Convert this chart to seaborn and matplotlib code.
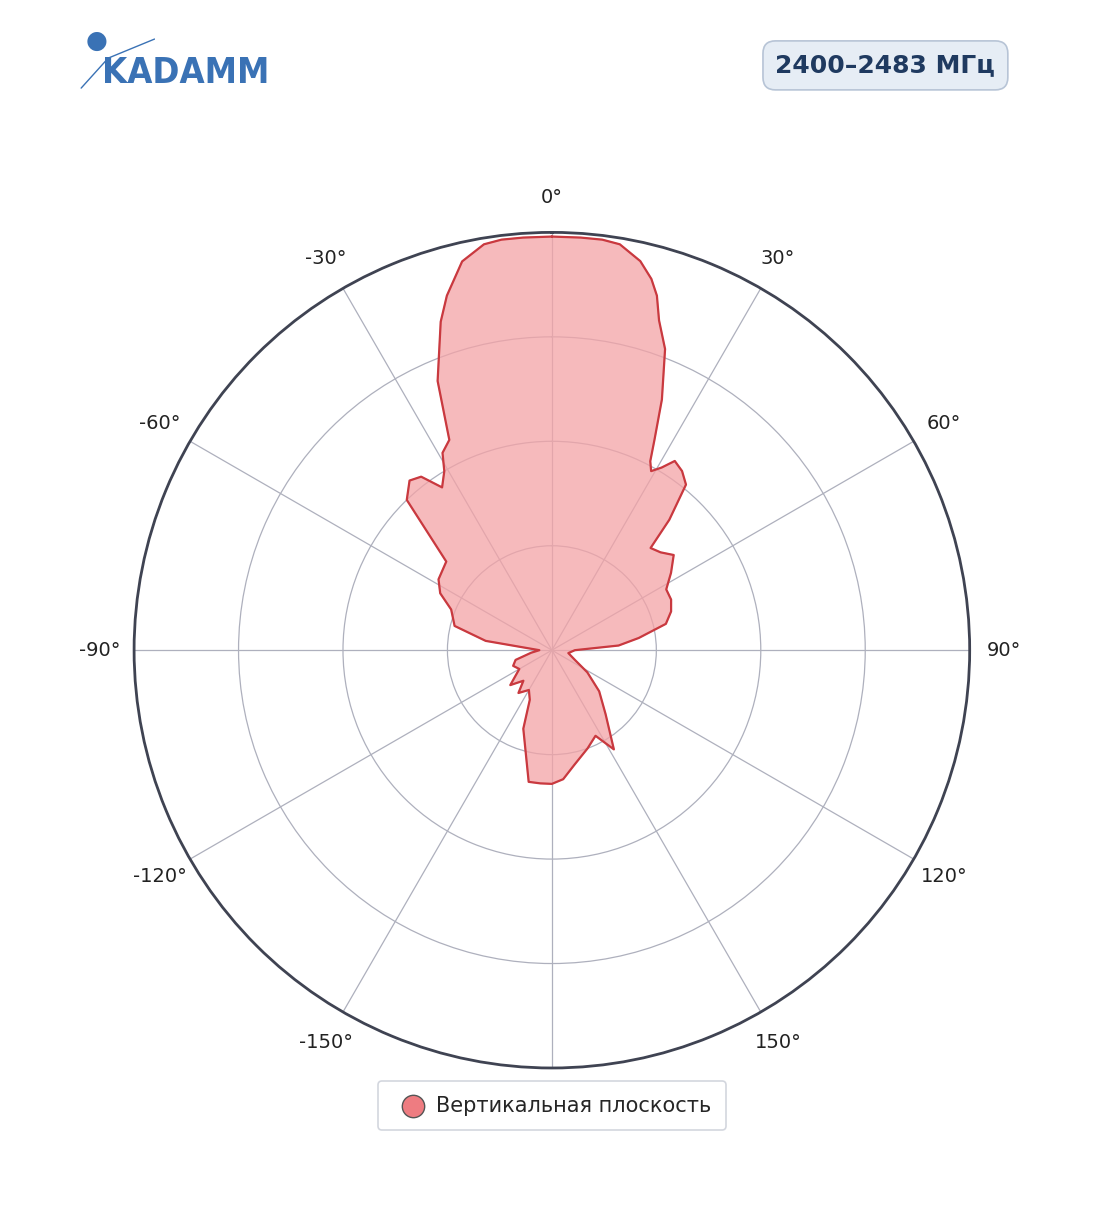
import numpy as np
import pandas as pd
import matplotlib
matplotlib.use('Agg')
import matplotlib.pyplot as plt
import seaborn as sns

sns.set_theme(style="white")
plt.rcParams['font.family'] = ['DejaVu Sans']

# pattern: angle (deg), relative radius (0..1)
angles = [0, 4, 7, 9.5, 12.8, 15, 16.5, 18, 20.6, 23.7, 26, 27.5, 29, 31, 33, 36, 39, 42, 44, 48, 52, 57, 62, 67, 72, 77, 82, 86, 90,
          100, 113, 122, 131, 140, 148, 153, 160, 169, 175, 180,
          185, 190, 200, 204, 210, 218, 223, 230, 240, 248, 255, 263, 270,
          278, 284, 292, 297, 302, 310, 316, 320, 323, 326, 329, 331, 334, 337, 341.3, 343.5, 347, 350.5, 353, 356, 360]
radius = [0.99, 0.99, 0.99, 0.985, 0.955, 0.92, 0.885, 0.83, 0.77, 0.655, 0.56, 0.51, 0.49, 0.51, 0.54, 0.53, 0.51, 0.42, 0.34, 0.35, 0.37, 0.34, 0.31, 0.31, 0.30, 0.28, 0.21, 0.16, 0.055,
          0.04, 0.06, 0.10, 0.15, 0.20, 0.28, 0.23, 0.25, 0.28, 0.31, 0.32,
          0.32, 0.32, 0.20, 0.13, 0.11, 0.13, 0.10, 0.13, 0.09, 0.10, 0.09, 0.05, 0.03,
          0.16, 0.24, 0.26, 0.30, 0.32, 0.33, 0.50, 0.53, 0.52, 0.47, 0.50, 0.54, 0.56, 0.70, 0.83, 0.885, 0.955, 0.985, 0.99, 0.99, 0.99]

spokes = list(range(0, 360, 30))
spoke_labels = ["0°", "30°", "60°", "90°", "120°", "150°", "",
                "-150°", "-120°", "-90°", "-60°", "-30°"]

df = pd.DataFrame({"theta": np.deg2rad(angles), "r": radius})

fig = plt.figure(figsize=(11.04, 12.11), dpi=100)
ax = fig.add_axes([0.1214, 0.1181, 0.757, 0.690], projection='polar')
ax.set_theta_zero_location('N')
ax.set_theta_direction(-1)
ax.set_ylim(0, 1)

line_col = '#c9393f'
ax.fill(df["theta"], df["r"], color='#f4a3a6', alpha=0.75, zorder=2)
sns.lineplot(data=df, x="theta", y="r", sort=False, color=line_col, lw=1.6, ax=ax, zorder=3)

ax.set_xticks(np.deg2rad(spokes))
ax.set_xticklabels(spoke_labels, fontsize=14, color='#222222')
ax.tick_params(axis='x', pad=12)
ax.set_yticks([0.25, 0.5, 0.75, 1.0])
ax.set_yticklabels([])
ax.grid(True, color='#aeb0bd', lw=0.9)
ax.spines['polar'].set_color('#3f4352')
ax.spines['polar'].set_linewidth(2)
ax.set_xlabel("")
ax.set_ylabel("")

# legend
ax.scatter([], [], s=260, color='#ee7c81', edgecolor='#555555', label='Вертикальная плоскость')
leg = fig.legend(loc='center', bbox_to_anchor=(0.5, 0.087), fontsize=15, frameon=True,
                 borderpad=0.7, handletextpad=0.1)
leg.get_frame().set_edgecolor('#c8ccd6')
leg.get_frame().set_linewidth(1.2)
leg.legend_handles[0].set_sizes([260])

# frequency badge
fig.text(0.802, 0.946, "2400–2483 МГц", fontsize=18, fontweight='bold', color='#1f3a60',
         ha='center', va='center',
         bbox=dict(boxstyle='round,pad=0.5', fc='#e6edf5', ec='#b7c4d6', lw=1.2))

# logo
fig.text(0.092, 0.940, "KADAMM", fontsize=26, fontweight='bold', color='#3a72b5',
         ha='left', va='center', fontstretch='condensed')
fig.text(0.078, 0.966, "●", fontsize=18, color='#3a72b5', ha='left', va='center')
logo = fig.add_axes([0.07, 0.925, 0.07, 0.045])
logo.axis('off')
logo.plot([0.05, 0.4, 1.0], [0.05, 0.6, 0.95], color='#3a72b5', lw=1)
logo.set_xlim(0, 1)
logo.set_ylim(0, 1)

fig.savefig("out.png", dpi=100)
